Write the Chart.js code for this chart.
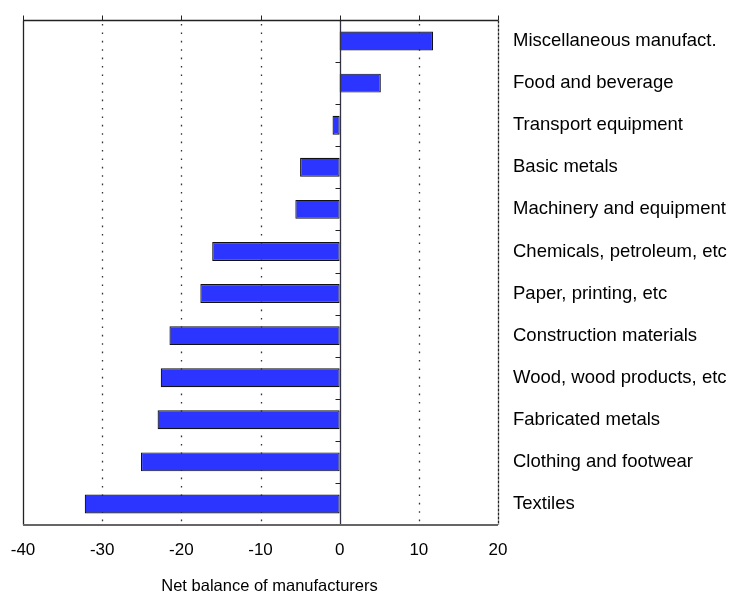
<!DOCTYPE html>
<html>
<head>
<meta charset="utf-8">
<script src="https://cdn.jsdelivr.net/npm/chart.js@4/dist/chart.umd.min.js"></script>
<style>
  html, body { margin: 0; padding: 0; background: #fff; }
  #wrap { width: 733px; height: 594px; }
</style>
</head>
<body>
<div id="wrap"><canvas id="chart" width="733" height="594"></canvas></div>
<script>
// Industry groups, listed top to bottom
const industries = [
  'Miscellaneous manufact.',
  'Food and beverage',
  'Transport equipment',
  'Basic metals',
  'Machinery and equipment',
  'Chemicals, petroleum, etc',
  'Paper, printing, etc',
  'Construction materials',
  'Wood, wood products, etc',
  'Fabricated metals',
  'Clothing and footwear',
  'Textiles'
];

// Net balance of manufacturers (per cent)
const netBalance = [11.8, 5.2, -0.9, -5.0, -5.6, -16.1, -17.6, -21.5, -22.6, -23.0, -25.1, -32.2];

// Horizontal axis range and tick step
const xMin = -40;
const xMax = 20;
const xStep = 10;

const axisTitle = 'Net balance of manufacturers';
const fontFamily = 'Liberation Sans, Arial, sans-serif';

// Frame, dotted grid, zero line with category ticks, and the axis title
const framePlugin = {
  id: 'frame',
  beforeDatasetsDraw(chart) {
    const { ctx, chartArea: a, scales: { x } } = chart;
    ctx.save();
    ctx.strokeStyle = '#333';
    ctx.lineWidth = 1.3;
    ctx.setLineDash([1.6, 6.8]);
    for (let v = xMin + xStep; v < xMax; v += xStep) {
      if (v === 0) continue;
      const px = Math.round(x.getPixelForValue(v)) + 0.5;
      ctx.beginPath();
      ctx.moveTo(px, a.top + 4);
      ctx.lineTo(px, a.bottom);
      ctx.stroke();
    }
    ctx.restore();
  },
  afterDatasetsDraw(chart) {
    const { ctx, chartArea: a, scales: { x, y } } = chart;
    ctx.save();
    ctx.setLineDash([]);

    // zero line
    const x0 = Math.round(x.getPixelForValue(0)) + 0.5;
    ctx.strokeStyle = '#333344';
    ctx.lineWidth = 1.3;
    ctx.beginPath();
    ctx.moveTo(x0, a.top);
    ctx.lineTo(x0, a.bottom);
    ctx.stroke();

    // category boundary ticks on the zero line
    ctx.lineWidth = 1;
    ctx.strokeStyle = '#222';
    for (let i = 1; i < industries.length; i++) {
      const py = Math.round((y.getPixelForValue(i - 1) + y.getPixelForValue(i)) / 2) + 0.5;
      ctx.beginPath();
      ctx.moveTo(x0 - 5, py);
      ctx.lineTo(x0, py);
      ctx.stroke();
    }

    // top border with upward ticks
    const yt = Math.round(a.top) + 0.5;
    ctx.strokeStyle = '#222';
    ctx.lineWidth = 1.3;
    ctx.beginPath();
    ctx.moveTo(a.left, yt);
    ctx.lineTo(a.right, yt);
    ctx.stroke();
    ctx.lineWidth = 1;
    for (let v = xMin; v <= xMax; v += xStep) {
      const px = Math.round(x.getPixelForValue(v)) + 0.5;
      ctx.beginPath();
      ctx.moveTo(px, yt - 5);
      ctx.lineTo(px, yt);
      ctx.stroke();
    }

    // left border
    const xl = Math.round(a.left) + 0.5;
    ctx.lineWidth = 1.3;
    ctx.beginPath();
    ctx.moveTo(xl, yt);
    ctx.lineTo(xl, a.bottom);
    ctx.stroke();

    // right border, finely dashed
    const xr = Math.round(a.right) + 0.5;
    ctx.setLineDash([3, 1]);
    ctx.beginPath();
    ctx.moveTo(xr, yt);
    ctx.lineTo(xr, a.bottom);
    ctx.stroke();
    ctx.setLineDash([]);

    // bottom border
    ctx.strokeStyle = '#666';
    ctx.lineWidth = 2;
    ctx.beginPath();
    ctx.moveTo(a.left, a.bottom);
    ctx.lineTo(a.right, a.bottom);
    ctx.stroke();

    ctx.restore();
  },
  afterDraw(chart) {
    const { ctx, scales: { x } } = chart;
    ctx.save();
    ctx.fillStyle = '#000';
    ctx.font = '16.5px ' + fontFamily;
    ctx.textAlign = 'center';
    ctx.textBaseline = 'middle';
    ctx.fillText(axisTitle, (x.left + x.right) / 2 + 9, x.bottom - 8);
    ctx.restore();
  }
};

new Chart(document.getElementById('chart'), {
  type: 'bar',
  data: {
    labels: industries,
    datasets: [{
      data: netBalance,
      backgroundColor: '#2b35ff',
      borderColor: '#111',
      borderWidth: 1.2,
      borderSkipped: false,
      barPercentage: 0.45,
      categoryPercentage: 1.0
    }]
  },
  options: {
    indexAxis: 'y',
    responsive: false,
    animation: false,
    layout: { padding: { left: 23, top: 20, right: 0, bottom: 0 } },
    plugins: {
      legend: { display: false },
      tooltip: { enabled: false }
    },
    scales: {
      x: {
        type: 'linear',
        min: xMin,
        max: xMax,
        grid: { display: false, drawTicks: false },
        border: { display: false },
        ticks: {
          stepSize: xStep,
          color: '#000',
          font: { family: fontFamily, size: 17 },
          padding: 15
        },
        afterFit(scale) {
          scale.height = 69;
          scale.paddingLeft = 0;
          scale.paddingRight = 0;
        }
      },
      y: {
        position: 'right',
        grid: { display: false, drawTicks: false },
        border: { display: false },
        ticks: {
          color: '#000',
          font: { family: fontFamily, size: 18.5 },
          padding: 15,
          autoSkip: false
        },
        afterFit(scale) {
          scale.width = 235;
          scale.paddingTop = 0;
          scale.paddingBottom = 0;
        }
      }
    }
  },
  plugins: [framePlugin]
});
</script>
</body>
</html>
